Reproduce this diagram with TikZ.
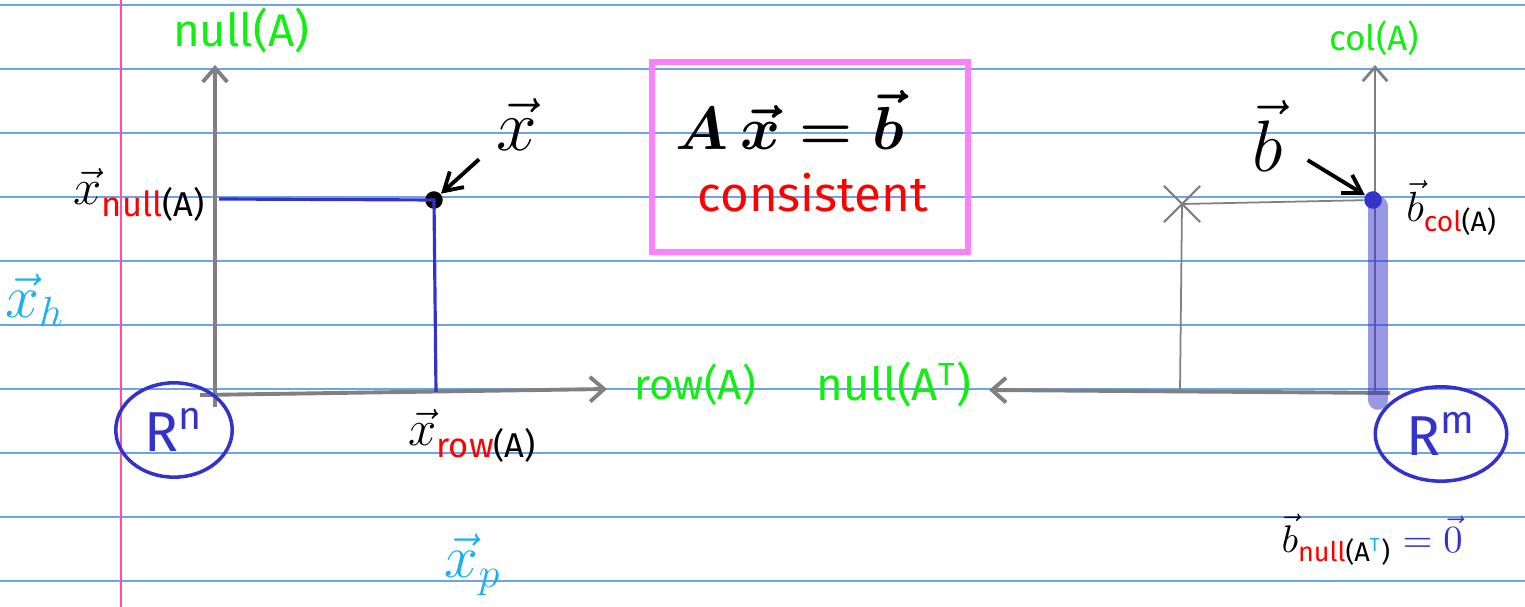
\documentclass[tikz,border=0pt]{standalone}
\usepackage{amsmath,amssymb}
\usepackage{fontspec}
\setsansfont{Fira Sans}
\usetikzlibrary{arrows.meta,positioning,shapes.geometric,shapes.misc}

\definecolor{RuleBlue}{HTML}{6FA3E8}
\definecolor{MarginPink}{HTML}{FF4FA8}
\definecolor{AxisGray}{HTML}{808080}
\definecolor{Ink}{HTML}{3333CC}
\definecolor{Leaf}{HTML}{11EE11}
\definecolor{Sky}{HTML}{19B0F0}
\definecolor{BoxPink}{HTML}{FF80FF}

\newcommand{\fsz}[1]{\fontsize{#1}{#1}\selectfont}
\newcommand{\sub}[2]{\text{\color{red}#1}\text{#2}}

\begin{document}
\begin{tikzpicture}[x=0.01cm,y=-0.01cm,font=\sffamily]
        \tikzset{AxisStyle/.style={draw=AxisGray, line width=1.1pt,
                -{Straight Barb[length=4pt,width=7pt]}},
                ThinGray/.style={draw=AxisGray, line width=0.5pt},
                ProjStyle/.style={draw=Ink, line width=0.9pt},
                Pointer/.style={draw=black, line width=1.1pt,
                -{Straight Barb[length=5pt,width=6pt]}},
                Dot/.style={circle, fill=black, inner sep=0pt, minimum size=5pt},
                GreenText/.style={text=Leaf, font=\sffamily\fsz{12}},
                CyanText/.style={text=Sky, font=\fsz{17}},
                Circled/.style={draw=Ink, ellipse, line width=1pt, text=Ink,
                font=\sffamily\fsz{16}}}
        \useasboundingbox (0,0) rectangle (1525,607);
        \fill[white] (0,0) rectangle (1525,607);
        % paper
        \foreach \y in {5,69,...,581}
                \draw[RuleBlue, line width=0.45pt] (0,\y) -- (1525,\y);
        \draw[MarginPink, line width=0.45pt] (121,0) -- (121,607);
        % R^n side
        \coordinate (O1) at (215,407);
        \coordinate (NullTop) at (215,65);
        \coordinate (H1) at (200,395);
        \coordinate (RowEnd) at (607,389);
        \draw[AxisStyle] (O1) -- (NullTop);
        \draw[AxisStyle] (H1) -- (RowEnd);
        \node[GreenText, font=\sffamily\fsz{13}] (nullA) at (241,31) {null(A)};
        \node[GreenText] (rowA) at (695,385) {row(A)};
        \node[Dot] (x) at (434,200) {};
        \coordinate (xN) at (219,199);
        \coordinate (xR) at (436,392);
        \draw[ProjStyle] (xN) -- (x.center) -- (xR);
        \node[font=\fsz{22}] (xvec) at (517,125) {$\vec{x}$};
        \draw[Pointer, shorten <=2pt] (xvec) -- (x);
        \node[font=\sffamily\fsz{14}] (xnull) at (140,195) {$\vec{x}_{\sub{null}{(A)}}$};
        \node[font=\sffamily\fsz{14}] (xrow) at (473,436) {$\vec{x}_{\sub{row}{(A)}}$};
        \node[Circled, minimum width=1.08cm, minimum height=0.82cm] (Rn) at (174,430) {R\textsuperscript{n}};
        \node[CyanText] (xh) at (35,300) {$\vec{x}_h$};
        \node[CyanText] (xp) at (473,565) {$\vec{x}_p$};
        % the equation
        \node[draw=BoxPink, line width=1.6pt, minimum width=3.16cm, minimum height=1.9cm] (Box) at (810,157) {};
        \node[font=\sffamily\fsz{16}] (eq) at (790,120) {$\boldsymbol{A\,\vec{x} = \vec{b}}$};
        \node[text=red, font=\sffamily\fsz{14}] (cons) at (813,193) {consistent};
        % R^m side
        \coordinate (O2) at (1390,393);
        \coordinate (NullTEnd) at (989,390);
        \coordinate (O2v) at (1375,395);
        \coordinate (ColTop) at (1375,65);
        \coordinate (BarTop) at (1378,206);
        \coordinate (BarBot) at (1378,400);
        \coordinate (XFoot) at (1180,390);
        \draw[AxisStyle] (O2) -- (NullTEnd);
        \draw[AxisStyle, line width=0.8pt] (O2v) -- (ColTop);
        \draw[Ink, opacity=0.5, line width=5.6pt, line cap=round] (BarTop) -- (BarBot);
        \node[GreenText, font=\sffamily\fsz{13}] (nullAT) at (894,385) {null(A\textsuperscript{T})};
        \node[GreenText, font=\sffamily\fsz{10}] (colA) at (1374,38) {col(A)};
        \node[Dot, fill=Ink] (b) at (1373,200) {};
        \node[draw=AxisGray, cross out, line width=0.6pt, minimum size=0.34cm] (xm) at (1182,204) {};
        \draw[ThinGray] (b) -- (xm.center) -- (XFoot);
        \node[font=\fsz{22}] (bvec) at (1268,136) {$\vec{b}$};
        \draw[Pointer, shorten <=4pt] (bvec) -- (b);
        \node[font=\sffamily\fsz{12}] (bcol) at (1452,208) {$\vec{b}_{\sub{col}{(A)}}$};
        \node[Circled, minimum width=1.12cm, minimum height=0.8cm] (Rm) at (1441,434) {R\textsuperscript{m}};
        \node[font=\sffamily\fsz{11}] (bnull) at (1372,540)
                {$\vec{b}_{\sub{null}{(A}\text{\textsuperscript{\color{Sky}T})}} \textcolor{Ink}{\;=\vec{0}}$};
\end{tikzpicture}
\end{document}
